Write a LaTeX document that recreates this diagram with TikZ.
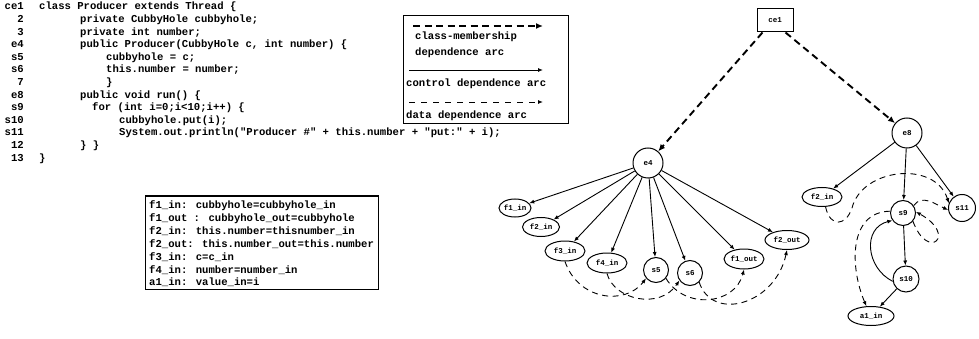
\documentclass[tikz,border=0pt]{standalone}
\usepackage{fontspec}
\newfontfamily\codefont{Liberation Mono}
\usetikzlibrary{shapes.geometric,arrows.meta}
\begin{document}
\begin{tikzpicture}[x=1pt,y=-1pt,
  code/.style={font=\codefont\bfseries\fontsize{10.6}{12}\selectfont, inner sep=0pt, anchor=base west},
  lnum/.style={code, anchor=base east},
  gfont/.style={font=\codefont\bfseries\fontsize{7.5}{8}\selectfont},
  circ/.style={gfont, draw, circle, line width=1pt, inner sep=0pt},
  ell/.style={gfont, draw, ellipse, line width=1pt, inner sep=0pt},
  ctrl/.style={line width=0.9pt, -{Latex[length=5pt,width=4pt]}},
  data/.style={line width=0.9pt, dash pattern=on 6pt off 4.5pt, -{Latex[length=5pt,width=4pt]}},
  member/.style={line width=1.9pt, dash pattern=on 7pt off 4.5pt, -{Latex[length=7pt,width=6pt]}},
  frame/.style={draw, line width=1pt, inner sep=0pt}
]
\useasboundingbox (0,0) rectangle (979,339);

% ---- source code ----
\node[lnum] (n1) at (24,10.0) {ce1};
\node[code] (l1) at (39,10.0) {class Producer extends Thread \{};
\node[lnum] (n2) at (24,22.6) {2};
\node[code] (l2) at (80,22.6) {private CubbyHole cubbyhole;};
\node[lnum] (n3) at (24,35.2) {3};
\node[code] (l3) at (80,35.2) {private int number;};
\node[lnum] (n4) at (24,47.8) {e4};
\node[code] (l4) at (80,47.8) {public Producer(CubbyHole c, int number) \{};
\node[lnum] (n5) at (24,60.4) {s5};
\node[code] (l5) at (106,60.4) {cubbyhole = c;};
\node[lnum] (n6) at (24,73.0) {s6};
\node[code] (l6) at (106,73.0) {this.number = number;};
\node[lnum] (n7) at (24,85.6) {7};
\node[code] (l7) at (106,85.6) {\}};
\node[lnum] (n8) at (24,98.2) {e8};
\node[code] (l8) at (80,98.2) {public void run() \{};
\node[lnum] (n9) at (24,110.8) {s9};
\node[code] (l9) at (92,110.8) {for (int i=0;i<10;i++) \{};
\node[lnum] (n10) at (24,123.4) {s10};
\node[code] (l10) at (119,123.4) {cubbyhole.put(i);};
\node[lnum] (n11) at (24,136.0) {s11};
\node[code] (l11) at (119,136.0) {System.out.println("Producer \#" + this.number + "put:" + i);};
\node[lnum] (n12) at (24,148.6) {12};
\node[code] (l12) at (80,148.6) {\} \}};
\node[lnum] (n13) at (24,161.2) {13};
\node[code] (l13) at (39,161.2) {\}};

% ---- definitions box ----
\node[frame, minimum width=233pt, minimum height=93pt] (defbox) at (261.5,242.5) {};
\node[code] (d1) at (149,208.3) {f1\_in: cubbyhole=cubbyhole\_in};
\node[code] (d2) at (149,221.3) {f1\_out : cubbyhole\_out=cubbyhole};
\node[code] (d3) at (149,234.3) {f2\_in: this.number=thisnumber\_in};
\node[code] (d4) at (149,247.3) {f2\_out: this.number\_out=this.number};
\node[code] (d5) at (149,260.3) {f3\_in: c=c\_in};
\node[code] (d6) at (149,273.3) {f4\_in: number=number\_in};
\node[code] (d7) at (149,285.8) {a1\_in: value\_in=i};

% ---- legend ----
\node[frame, minimum width=165pt, minimum height=108pt] (legend) at (485.5,70) {};
\coordinate (la1) at (413,26); \coordinate (la2) at (543,26);
\draw[member] (la1) -- (la2);
\node[code] (lt1) at (415,39.5) {class-membership};
\node[code] (lt2) at (415,55.5) {dependence arc};
\coordinate (lb1) at (409,70); \coordinate (lb2) at (543,70);
\draw[ctrl] (lb1) -- (lb2);
\node[code] (lt3) at (406,86.5) {control dependence arc};
\coordinate (lc1) at (409,102); \coordinate (lc2) at (543,102);
\draw[data, dash pattern=on 6pt off 6pt] (lc1) -- (lc2);
\node[code] (lt4) at (406,119) {data dependence arc};

% ---- graph nodes ----
\node[gfont, draw, line width=1pt, minimum width=36pt, minimum height=23pt, inner sep=0pt] (ce1) at (775,20.5) {ce1};
\node[circ, minimum size=30pt] (e4) at (648,163) {e4};
\node[circ, minimum size=30pt] (e8) at (907,133) {e8};
\node[ell, minimum width=32pt, minimum height=18pt] (f1in) at (515,208) {f1\_in};
\node[ell, minimum width=37pt, minimum height=19pt] (f2in) at (541,227) {f2\_in};
\node[ell, minimum width=40pt, minimum height=20pt] (f3in) at (565,251) {f3\_in};
\node[ell, minimum width=40pt, minimum height=20pt] (f4in) at (607,263) {f4\_in};
\node[circ, minimum size=25pt] (s5) at (656,270) {s5};
\node[circ, minimum size=25pt] (s6) at (690,273) {s6};
\node[ell, minimum width=40pt, minimum height=20pt] (f1out) at (744,259) {f1\_out};
\node[ell, minimum width=44pt, minimum height=19pt] (f2out) at (787,240) {f2\_out};
\node[ell, minimum width=40pt, minimum height=19pt] (g2in) at (822,197) {f2\_in};
\node[circ, minimum size=25pt] (s9) at (903,213) {s9};
\node[circ, minimum size=27pt] (s11) at (962,208) {s11};
\node[circ, minimum size=26pt] (s10) at (906,279) {s10};
\node[ell, minimum width=46pt, minimum height=19pt] (a1in) at (871,316) {a1\_in};

% ---- class-membership arcs ----
\draw[member] (ce1.south west) ++(6pt,0) coordinate (c1) (c1) -- (e4);
\draw[member] (ce1.south east) ++(-8pt,0) coordinate (c2) (c2) -- (e8);

% ---- control dependence arcs ----
\foreach \t in {f1in,f2in,f3in,f4in,s5,s6,f1out,f2out}
  \draw[ctrl] (e4) -- (\t);
\foreach \t in {g2in,s9,s11}
  \draw[ctrl] (e8) -- (\t);
\draw[ctrl] (s9) -- (s10);
\draw[ctrl] (s10) -- (a1in);
\draw[ctrl] (s10.190) .. controls (866,268) and (862,228) .. (s9.215);

% ---- data dependence arcs ----
\draw[data] (f3in.south) .. controls (578,300) and (625,306) .. (s5.220);
\draw[data] (f4in.south) .. controls (614,300) and (660,310) .. (s6.215);
\draw[data] (s5.-40) .. controls (685,310) and (735,305) .. (f1out.south);
\draw[data] (s6.-45) .. controls (712,322) and (775,305) .. (f2out.south);
\draw[data] (g2in.290) .. controls (830,228) and (846,226) .. (852,208)
      .. controls (862,168) and (935,160) .. (s11.160);
\draw[data] (s9.35) .. controls (922,194) and (935,204) .. (s11.188);
\draw[data] (s9.-40) .. controls (928,262) and (958,235) .. (s9.5);
\draw[data] (s9.172) .. controls (848,212) and (850,268) .. (a1in.115);
\end{tikzpicture}
\end{document}
